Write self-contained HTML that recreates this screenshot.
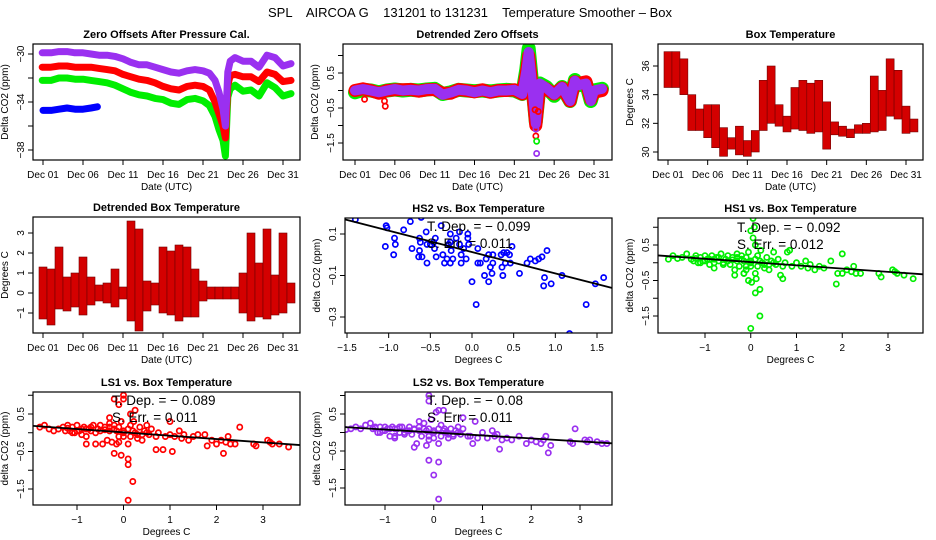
<!DOCTYPE html>
<html><head><meta charset="utf-8"><style>
html,body{margin:0;padding:0;background:#fff;}
svg{display:block;font-family:"Liberation Sans",sans-serif;}
</style></head><body>
<svg id="fig" width="936" height="540" viewBox="0 0 936 540">
<text x="470" y="17" text-anchor="middle" font-size="13" style="white-space:pre">SPL    AIRCOA G    131201 to 131231    Temperature Smoother – Box</text>
</svg>
<script>
// ===== Data =====
const dateTicks = [1,6,11,16,21,26,31];
const dateLabels = ["Dec 01","Dec 06","Dec 11","Dec 16","Dec 21","Dec 26","Dec 31"];

// Panel 1: zero offsets
const p1Days = [0.9,2,3,4,5,6,7,8,9,10,11,12,13,14,15,16,17,18,19,20,21,21.8,22.5,23,23.5,23.8,24.1,24.4,25,26,27,28,29,30,31,32];
const p1Purple = [-29.9,-29.9,-29.8,-29.8,-29.9,-29.9,-30,-30.1,-30.1,-30.2,-30.4,-30.7,-30.9,-30.9,-31.1,-31.3,-31.5,-31.6,-31.4,-31.3,-31.4,-31.6,-32.2,-33.2,-34.6,-36,-31.5,-30.6,-30.3,-30.6,-30.6,-31.1,-30.1,-30.3,-31,-30.8];
const p1Red = [-31.1,-31.1,-31,-31,-31.1,-31.1,-31.1,-31.2,-31.3,-31.4,-31.7,-31.9,-32.1,-32.2,-32.4,-32.7,-32.9,-33,-32.7,-32.6,-32.7,-33,-34,-35,-36,-37,-32.6,-31.8,-31.7,-31.9,-31.9,-32.3,-31.5,-31.7,-32.3,-32.2];
const p1Green = [-32.2,-32.2,-32,-32,-32.1,-32.1,-32.2,-32.3,-32.4,-32.6,-32.9,-33.2,-33.4,-33.5,-33.7,-33.8,-34.1,-34.2,-33.8,-33.7,-33.9,-34.3,-35.2,-36.3,-37.2,-38.5,-33.6,-32.9,-32.6,-33.1,-33,-33.5,-32.4,-32.8,-33.5,-33.3];
const p1BlueDays = [1,2,3,4,5,6,7,7.8];
const p1Blue = [-34.7,-34.7,-34.6,-34.5,-34.6,-34.6,-34.5,-34.4];

// Panel 2: detrended zero offsets
const p2Days = [1,2,3,4,5,6,7,8,9,10,11,12,13,14,15,16,17,18,19,20,21,22,22.5,22.8,23.1,23.4,23.7,24.2,25,26,27,28,28.6,29,30,30.6,31,32];
const p2Green = [-0.05,0.02,0,-0.05,0,0.03,0,0.02,0,0.03,0.05,-0.1,-0.05,0.02,0,-0.02,0,-0.03,0,0.02,0,-0.1,0.6,1.2,0.5,-0.2,-0.9,0.2,0.1,-0.15,0.1,-0.3,0.3,0.15,0.2,-0.3,0,0.05];
const p2Red = [0,0.05,0,-0.08,0,0.02,0.02,0.03,-0.02,0.02,0.03,-0.08,-0.08,0.03,0,-0.04,0.02,-0.05,0,0,0.02,-0.1,0.5,1.0,0.4,-0.3,-1.0,0.15,0.05,-0.1,0.08,-0.3,0.25,0.2,0.25,-0.25,-0.05,0];
const p2Purple = [0,0.04,0,-0.05,0,0.04,0,0.02,0,0.04,0.05,-0.12,-0.06,0.02,0,-0.05,0,-0.05,0,0,0.02,-0.1,0.55,1.1,0.45,-0.25,-0.95,0.2,0.08,-0.12,0.1,-0.3,0.28,0.15,0.2,-0.3,0,0.05];
const p2OutDays = [2.2,4.7,4.8,23.6,23.7,24,23.8,23.7,23.8];
const p2OutVals = [-0.25,-0.3,-0.45,-0.55,-1.3,-0.6,-1.45,-1.1,-1.8];
const p2OutCols = ["r","r","r","r","r","r","g","p","p"];

// Panel 3 & 4: box temperature (daily min/max)
const tDays = [1,2,3,4,5,6,7,8,9,10,11,12,13,14,15,16,17,18,19,20,21,22,23,24,25,26,27,28,29,30,31,32];
const boxLo = [34.5,34.5,34,31.5,31.5,31,30.3,29.7,30.2,29.8,29.7,30,31.5,32,31.8,31.4,31.6,31.5,31.3,31.4,30.2,31.2,31.1,31,31.3,31.3,31.4,31.5,32.5,32.3,31.3,31.4];
const boxHi = [37,37,36.5,34,33,33.3,33.3,31.7,31,31.8,30.8,31.5,35,36,33.3,32.5,34.5,35,34.8,35,33.5,32.1,31.8,31.6,31.9,32,35.3,34.3,36.5,35.7,33.2,32.3];
const detLo = [-1.3,-1.6,-0.8,-0.9,-0.7,-1.1,-0.6,-0.4,-0.5,-0.7,-0.3,-1.4,-1.9,-0.9,-0.6,-1,-1.1,-1.4,-1.2,-1.2,-0.4,-0.3,-0.3,-0.3,-0.3,-1,-1.4,-1.2,-1.3,-1.1,-1,-0.5];
const detHi = [1.3,1.2,2.3,0.8,1,1.8,0.8,0.4,0.5,1.2,0.3,3.6,3.2,0.6,0.5,2.3,2.1,2.4,2.3,1.2,0.6,0.3,0.3,0.3,0.3,1,3,1.5,3.2,0.9,3,0.5];

// Panel 5: HS2 scatter
const hs2X = [-1.4,-1.03,-1.02,-1.04,-0.93,-0.92,-0.94,-0.82,-0.74,-0.72,-0.61,-0.63,-0.62,-0.63,-0.64,-0.6,-0.55,-0.54,-0.54,-0.5,-0.46,-0.44,-0.45,-0.43,-0.37,-0.35,-0.33,-0.3,-0.28,-0.26,-0.26,-0.25,-0.26,-0.23,-0.19,-0.15,-0.15,-0.13,-0.13,-0.1,-0.07,-0.05,-0.05,-0.04,0,0.05,0.07,0.07,0.1,0.15,0.17,0.2,0.2,0.22,0.24,0.25,0.25,0.35,0.36,0.37,0.38,0.4,0.42,0.45,0.46,0.48,0.57,0.66,0.7,0.76,0.8,0.84,0.86,0.87,0.9,0.95,1.08,1.17,1.37,1.48,1.58];
const hs2Y = [0.17,0.14,0.13,0.04,0.08,0.05,0,0.12,0.16,0.03,0.18,0.08,0.06,0.02,-0.01,-0.01,0.11,0.05,-0.04,0.05,0.06,0.08,0.03,-0.01,0.14,0,-0.04,-0.02,0.05,0.1,0.06,0.02,-0.04,-0.02,0.08,0.11,0.05,-0.04,0,0.03,-0.02,0.1,0.08,0.05,-0.13,-0.24,0.03,-0.04,-0.04,-0.1,-0.02,-0.13,0,-0.06,-0.09,0,-0.04,0,-0.06,-0.1,0.01,-0.04,0.01,0,-0.04,0.04,-0.09,-0.04,-0.02,-0.03,-0.02,-0.01,-0.15,-0.11,0.02,-0.14,-0.1,-0.38,-0.24,-0.14,-0.11];
const hs2Fit = [0.013,-0.103];
const hs2Stats = ["T. Dep. = \u2212 0.099","S. Err. = 0.011"];

// Shared box-temperature cluster (x) for HS1/LS1/LS2
const clX = [-1.8,-1.7,-1.6,-1.5,-1.4,-1.3,-1.25,-1.2,-1.15,-1.1,-1.05,-1,-0.95,-0.9,-0.85,-0.8,-0.8,-0.75,-0.7,-0.65,-0.6,-0.55,-0.5,-0.45,-0.4,-0.35,-0.3,-0.3,-0.25,-0.2,-0.15,-0.15,-0.1,-0.1,-0.05,0,0,0.1,0.15,0.15,0.22,0.25,0.3,0.35,0.4,0.45,0.5,0.55,0.6,0.75,0.9,1,1.1,1.2,1.25,1.3,1.4,1.5,1.6,1.75,1.9,2,2.1,2.2,2.25,2.3,2.4,2.8,2.85,3.1,3.15,3.2,3.35,3.55,-1.2,-1,-0.8,-0.6,-0.4,-0.2,0,0.2,0.4,-1.1,-0.9,-0.7,-0.5,-0.3,-0.1,0.1,0.3,0.5,0.7];
const hs1Y = [0.1,0.2,0.12,0.15,0.25,0.1,0.05,0.2,0,0.15,0.05,0.2,0.1,-0.05,0.2,0,-0.15,0.15,0.05,0.25,-0.05,0.1,0.2,-0.05,0.15,-0.2,0.05,0.25,-0.1,0.2,-0.3,0.05,0.15,-0.2,0.3,0.05,-0.1,-0.3,0.2,-0.1,0.35,0,-0.15,0.15,-0.2,0.05,0.3,-0.05,0.1,0,-0.1,0,-0.1,0.05,-0.15,-0.05,-0.2,-0.1,-0.15,0.05,-0.3,-0.3,-0.2,-0.25,-0.1,-0.3,-0.3,-0.3,-0.4,-0.2,-0.25,-0.3,-0.35,-0.45,0.12,0.05,0.1,0.0,0.08,0.1,0.0,0.05,-0.05,0.0,0.1,0.15,0.05,0.15,-0.1,0.1,-0.05,0.0,-0.1];
const hs1OutX = [-0.05,0,0.02,0.05,0.05,0.08,0.1,0.1,0.12,0.2,0.2,0,0.65,0.7,0.8,0.85,1.87,2,-0.35,-0.15];
const hs1OutY = [-0.5,0.9,-0.55,0.7,1.25,1.0,0.5,-0.85,-0.45,-0.75,-1.5,-1.85,-0.35,-0.45,0.3,0.35,-0.6,0.25,-0.35,-0.3];
const hs1Fit = [0.02,-0.092];
const hs1Stats = ["T. Dep. = \u2212 0.092","S. Err. = 0.012"];

const ls1Y = [0.15,0.2,0.1,0.05,0.1,0.15,0.05,0.2,0.05,0.15,0.0,0.2,0.05,-0.05,0.15,-0.1,-0.3,0.1,0.05,0.2,-0.3,0.1,0.2,-0.3,0.15,-0.2,0.05,0.25,-0.25,0.2,-0.3,0.05,0.15,-0.25,0.3,0.05,-0.1,-0.3,0.2,-0.1,0.3,0,-0.15,0.15,-0.2,0.05,0.2,-0.05,0.1,0,-0.1,-0.05,-0.1,0.05,-0.15,-0.05,-0.2,-0.1,-0.05,-0.05,-0.2,-0.3,-0.2,-0.25,-0.1,-0.3,-0.3,-0.3,-0.35,-0.2,-0.25,-0.3,-0.3,-0.38,0.12,0.05,0.1,0.0,0.08,0.1,0.0,0.05,-0.05,0.0,0.1,0.15,0.05,0.15,-0.1,0.1,-0.05,0.0,-0.1];
const ls1OutX = [0,-0.2,-0.1,0,0.25,0.1,0.1,0.2,0.1,-0.2,-0.05,0.7,0.85,1.05,2.5,2.15,1.8,-0.3,0.15,1];
const ls1OutY = [1.0,0.9,0.75,0.9,0.6,-0.7,-0.85,-1.3,-1.8,-0.55,-0.6,-0.45,-0.45,-0.5,0.15,-0.55,-0.35,0.4,0.5,0.3];
const ls1Fit = [0.01,-0.089];
const ls1Stats = ["T. Dep. = \u2212 0.089","S. Err. = 0.011"];

const ls2Y = [0.08,0.1,0.15,0.1,0.2,0.25,0.1,0.15,0.0,0.15,0.05,0.15,0.1,-0.1,0.15,-0.1,-0.15,0.1,0.0,0.15,-0.05,0.05,0.15,-0.05,0.1,-0.3,0.05,0.3,-0.1,0.25,-0.35,0.05,0.1,-0.2,0.35,0.05,-0.15,-0.3,0.2,-0.1,0.1,0,-0.15,0.1,-0.1,0.05,0.15,-0.05,0.1,-0.1,-0.15,0,-0.15,0.05,-0.1,-0.05,-0.2,-0.15,-0.2,-0.1,-0.3,-0.2,-0.25,-0.3,-0.2,-0.1,-0.35,-0.25,-0.3,-0.2,-0.25,-0.2,-0.25,-0.3,0.12,0.05,0.1,0.0,0.08,0.1,0.0,0.05,-0.05,0.0,0.1,0.15,0.05,0.15,-0.1,0.1,-0.05,0.0,-0.1];
const ls2OutX = [-0.1,-0.1,0.05,0.1,0.2,-0.1,0.1,0,0.1,-0.4,0.8,1.35,2.35,2.9,3.45,0.85,0.6];
const ls2OutY = [1.0,0.85,0.55,0.6,0.6,-0.75,-0.8,-1.15,-1.8,-0.4,-0.3,-0.45,-0.55,0.1,-0.3,0.3,0.4];
const ls2Fit = [0.0,-0.08];
const ls2Stats = ["T. Dep. = \u2212 0.08","S. Err. = 0.011"];

// ===== Drawing =====
const NS = "http://www.w3.org/2000/svg";
const svg = document.getElementById('fig');
function mk(tag, attrs, parent){
  const e = document.createElementNS(NS, tag);
  for (const k in attrs) e.setAttribute(k, attrs[k]);
  (parent||svg).appendChild(e);
  return e;
}
function lin(v0,p0,v1,p1){ return v => p0 + (v - v0) * (p1 - p0) / (v1 - v0); }
const COL = {r:"#ff0000", g:"#00ee00", b:"#0000ff", p:"#9a30f0"};

function panel(o){
  const g = mk('g', {});
  
  
  const t = mk('text', {x:(o.L+o.R)/2, y:o.T-6, 'text-anchor':'middle', 'font-size':'11', 'font-weight':'bold'}, g);
  t.textContent = o.title;
  
  
  const plot = mk('g', {}, g);
  
  
  o.xt.forEach((v,i)=>{
    const x = o.sx(v);
    mk('line', {x1:x, x2:x, y1:o.B, y2:o.B+5, stroke:'#000', 'stroke-width':1}, g);
    const tl = mk('text', {x:x, y:o.B+18, 'text-anchor':'middle', 'font-size':'10'}, g);
    tl.textContent = o.xl[i];
    
    
  });
  o.yt.forEach((v,i)=>{
    const y = o.sy(v);
    mk('line', {x1:o.L-5, x2:o.L, y1:y, y2:y, stroke:'#000', 'stroke-width':1}, g);
    if (o.yl[i] !== "") {
      const tl = mk('text', {x:0, y:0, 'text-anchor':'middle', 'font-size':'10', transform:`translate(${o.L-9},${y}) rotate(-90)`}, g);
      tl.textContent = o.yl[i];
      
      
    }
  });
  const xt = mk('text', {x:(o.L+o.R)/2, y:o.B+30, 'text-anchor':'middle', 'font-size':'10'}, g);
  xt.textContent = o.xlab;
  
  
  const yt = mk('text', {x:0, y:0, 'text-anchor':'middle', 'font-size':'10', transform:`translate(${o.L-25},${(o.T+o.B)/2}) rotate(-90)`}, g);
  yt.textContent = o.ylab;
  
  
  const cid = 'c' + o.name;
  const cp = mk('clipPath', {id:cid}, g);
  mk('rect', {x:o.L, y:o.T, width:o.R-o.L, height:o.B-o.T}, cp);
  const inner = mk('g', {'clip-path':`url(#${cid})`}, plot);
  o.draw(inner, o.sx, o.sy);
  mk('rect', {x:o.L, y:o.T, width:o.R-o.L, height:o.B-o.T, fill:'none', stroke:'#000', 'stroke-width':1.2}, g);
  if (o.after) o.after(g);
}
function series(par, xs, ys, sx, sy, col, w, name){
  const pts = xs.map((x,i)=>sx(x).toFixed(1)+','+sy(ys[i]).toFixed(1)).join(' ');
  const pl = mk('polyline', {points:pts, fill:'none', stroke:col, 'stroke-width':w, 'stroke-linejoin':'round', 'stroke-linecap':'round'}, par);
  
  
}
function dots(par, xs, ys, sx, sy, col, name){
  xs.forEach((x,i)=>{
    const c = mk('circle', {cx:sx(x), cy:sy(ys[i]), r:2.6, fill:'none', stroke:col, 'stroke-width':1.7}, par);
    
    
  });
}
function bands(par, xs, lo, hi, sx, sy, name){
  xs.forEach((x,i)=>{
    const y1 = sy(hi[i]), y2 = sy(lo[i]);
    const r = mk('rect', {x:sx(x)-4, y:y1, width:8, height:Math.max(2,y2-y1), fill:'#d40000', stroke:'#700000', 'stroke-width':0.6}, par);
    
    
  });
}
function statText(g, o, lines, x, y){
  lines.forEach((s,i)=>{
    const t = mk('text', {x:x, y:y + i*17, 'font-size':'13.5'}, g);
    t.textContent = s;
    
    
  });
}
function fitLine(par, fit, x0, x1, sx, sy){
  const l = mk('line', {x1:sx(x0), y1:sy(fit[0]+fit[1]*x0), x2:sx(x1), y2:sy(fit[0]+fit[1]*x1), stroke:'#000', 'stroke-width':1.8}, par);
  
  
}

panel({name:'zero-offsets-panel', title:'Zero Offsets After Pressure Cal.', L:33, R:300, T:44, B:160,
  sx:lin(1,43,31,283), sy:lin(-30,54,-38,150), xt:dateTicks, xl:dateLabels,
  yt:[-30,-32,-34,-36,-38], yl:["\u221230","","\u221234","","\u221238"],
  xlab:'Date (UTC)', ylab:'Delta CO2 (ppm)',
  draw:(p,sx,sy)=>{
    series(p, p1Days, p1Green, sx, sy, COL.g, 7, 'hs1-series');
    series(p, p1Days, p1Red, sx, sy, COL.r, 7, 'ls1-series');
    series(p, p1Days, p1Purple, sx, sy, COL.p, 7, 'ls2-series');
    series(p, p1BlueDays, p1Blue, sx, sy, COL.b, 7, 'hs2-series');
  }});

panel({name:'detrended-zero-panel', title:'Detrended Zero Offsets', L:343, R:612, T:44, B:160,
  sx:lin(1,355,31,594), sy:lin(0.5,73,-1.5,143), xt:dateTicks, xl:dateLabels,
  yt:[1,0.5,0,-0.5,-1,-1.5], yl:["","0.5","","\u22120.5","","\u22121.5"],
  xlab:'Date (UTC)', ylab:'Delta CO2 (ppm)',
  draw:(p,sx,sy)=>{
    series(p, p2Days, p2Green, sx, sy, COL.g, 14, 'hs1-detrended');
    series(p, p2Days, p2Red, sx, sy, COL.r, 13, 'ls1-detrended');
    series(p, p2Days, p2Purple, sx, sy, COL.p, 10, 'ls2-detrended');
    p2OutDays.forEach((d,i)=>dots(p, [d], [p2OutVals[i]], sx, sy, COL[p2OutCols[i]], 'outlier-point'));
  }});

panel({name:'box-temperature-panel', title:'Box Temperature', L:658, R:923, T:44, B:160,
  sx:lin(1,668,31,906), sy:lin(36,66,30,152), xt:dateTicks, xl:dateLabels,
  yt:[30,32,34,36], yl:["30","32","34","36"],
  xlab:'Date (UTC)', ylab:'Degrees C',
  draw:(p,sx,sy)=>bands(p, tDays, boxLo, boxHi, sx, sy, 'box-temp-band')});

panel({name:'detrended-box-temp-panel', title:'Detrended Box Temperature', L:33, R:300, T:217, B:333,
  sx:lin(1,43,31,283), sy:lin(3,233,-1,313), xt:dateTicks, xl:dateLabels,
  yt:[-1,0,1,2,3], yl:["\u22121","0","1","2","3"],
  xlab:'Date (UTC)', ylab:'Degrees C',
  draw:(p,sx,sy)=>bands(p, tDays, detLo, detHi, sx, sy, 'detrended-temp-band')});

panel({name:'hs2-scatter-panel', title:'HS2 vs. Box Temperature', L:345, R:612, T:218, B:333,
  sx:lin(-1.5,347,1.5,597), sy:lin(0.1,234,-0.3,317),
  xt:[-1.5,-1,-0.5,0,0.5,1,1.5], xl:["\u22121.5","\u22121.0","\u22120.5","0.0","0.5","1.0","1.5"],
  yt:[0.1,-0.1,-0.3], yl:["0.1","\u22120.1","\u22120.3"],
  xlab:'Degrees C', ylab:'delta CO2 (ppm)',
  draw:(p,sx,sy)=>{ dots(p, hs2X, hs2Y, sx, sy, COL.b, 'hs2-point'); fitLine(p, hs2Fit, -1.6, 1.8, sx, sy); },
  after:(g)=>statText(g, null, hs2Stats, 427, 231)});

panel({name:'hs1-scatter-panel', title:'HS1 vs. Box Temperature', L:658, R:923, T:218, B:333,
  sx:lin(-1,705,3,888), sy:lin(0.5,245,-1.5,316),
  xt:[-1,0,1,2,3], xl:["\u22121","0","1","2","3"],
  yt:[1,0.5,0,-0.5,-1,-1.5], yl:["","0.5","","\u22120.5","","\u22121.5"],
  xlab:'Degrees C', ylab:'delta CO2 (ppm)',
  draw:(p,sx,sy)=>{ dots(p, clX, hs1Y, sx, sy, COL.g, 'hs1-point'); dots(p, hs1OutX, hs1OutY, sx, sy, COL.g, 'hs1-point'); fitLine(p, hs1Fit, -2.1, 3.8, sx, sy); },
  after:(g)=>statText(g, null, hs1Stats, 737, 232)});

panel({name:'ls1-scatter-panel', title:'LS1 vs. Box Temperature', L:33, R:300, T:392, B:505,
  sx:lin(-1,77,3,263), sy:lin(0.5,414,-1.5,489),
  xt:[-1,0,1,2,3], xl:["\u22121","0","1","2","3"],
  yt:[1,0.5,0,-0.5,-1,-1.5], yl:["","0.5","","\u22120.5","","\u22121.5"],
  xlab:'Degrees C', ylab:'delta CO2 (ppm)',
  draw:(p,sx,sy)=>{ dots(p, clX, ls1Y, sx, sy, COL.r, 'ls1-point'); dots(p, ls1OutX, ls1OutY, sx, sy, COL.r, 'ls1-point'); fitLine(p, ls1Fit, -2, 3.8, sx, sy); },
  after:(g)=>statText(g, null, ls1Stats, 112, 405)});

panel({name:'ls2-scatter-panel', title:'LS2 vs. Box Temperature', L:345, R:612, T:392, B:505,
  sx:lin(-1,385,3,580), sy:lin(0.5,414,-1.5,488),
  xt:[-1,0,1,2,3], xl:["\u22121","0","1","2","3"],
  yt:[1,0.5,0,-0.5,-1,-1.5], yl:["","0.5","","\u22120.5","","\u22121.5"],
  xlab:'Degrees C', ylab:'delta CO2 (ppm)',
  draw:(p,sx,sy)=>{ dots(p, clX, ls2Y, sx, sy, COL.p, 'ls2-point'); dots(p, ls2OutX, ls2OutY, sx, sy, COL.p, 'ls2-point'); fitLine(p, ls2Fit, -2, 3.8, sx, sy); },
  after:(g)=>statText(g, null, ls2Stats, 427, 405)});
</script>
</body></html>
